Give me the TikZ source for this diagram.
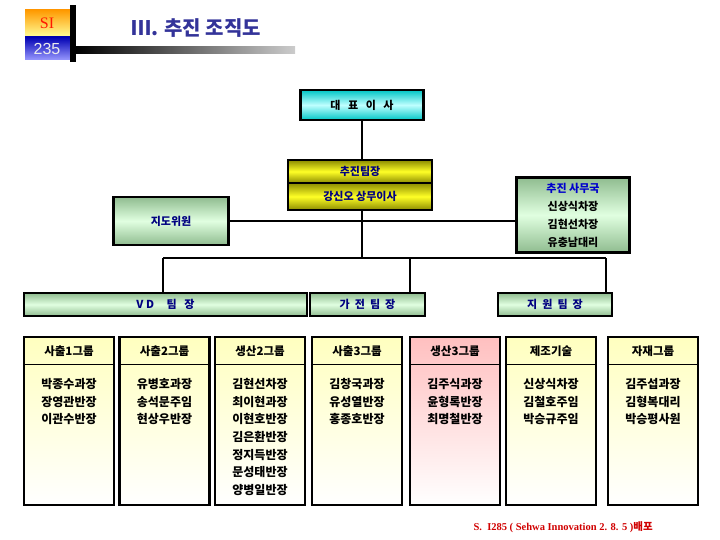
\documentclass[tikz,border=0pt]{standalone}
\usepackage{fontspec}
\setmainfont{Noto Sans CJK KR}
\newfontfamily\latinserif{Liberation Serif}
\newfontfamily\latinsans{Liberation Sans}
\usetikzlibrary{positioning}
\definecolor{navytxt}{HTML}{000080}
\definecolor{titleblue}{HTML}{333399}
\definecolor{footred}{HTML}{D00000}
\tikzset{
    box/.style={draw=black,line width=2.4pt,inner sep=0pt,font=\bfseries\fontsize{11}{13}\selectfont},
    cyanbox/.style={box,top color=cyan!55!teal,bottom color=cyan!55!teal,middle color=cyan!25!white},
    olivebox/.style={box,top color=olive!90!yellow,bottom color=olive!90!yellow,middle color=yellow!85!white},
    greenbox/.style={box,top color=green!25!gray!70,bottom color=green!25!gray!70,middle color=green!12!white,text=navytxt},
    grpyel/.style={box,top color=yellow!25,bottom color=white},
    grppink/.style={box,top color=red!25,bottom color=white},
    link/.style={line width=2.2pt,draw=black},
    every node/.style={font=\bfseries\fontsize{11.5}{13}\selectfont}
}

\begin{document}
\begin{tikzpicture}[x=1pt,y=-1pt]
  \useasboundingbox (0,0) rectangle (720,540);

  % header corner
  \shade[top color=orange!80!yellow,bottom color=yellow!40] (25,10) rectangle (70,37);
  \shade[top color=blue!70!black,bottom color=blue!40!white] (25,37) rectangle (70,60);
  \node[font=\latinserif\fontsize{16}{16}\selectfont,text=red!80!orange] (si) at (47,23) {SI};
  \node[font=\latinsans\fontsize{16}{16}\selectfont,text=gray!15] (num) at (47,49) {235};
  \fill[black] (70,5) rectangle (76,62);
  \shade[left color=black,right color=gray!40] (76,47) rectangle (295,54);
  \node[font=\bfseries\fontsize{20}{22}\selectfont,text=titleblue] (title) at (196,28) {Ⅲ. 추진 조직도};

  % top of the chart
  \node[cyanbox,minimum width=123,minimum height=30] (ceo) at (362,105) {대\ \ \ 표\ \ \ 이\ \ \ 사};
  \node[olivebox,minimum width=144,minimum height=23,text=navytxt] (team) at (360,171.5) {추진팀장};
  \node[olivebox,minimum width=144,minimum height=27,text=navytxt] (chief) at (360,196.5) {강신오 상무이사};
  \node[greenbox,minimum width=115,minimum height=48] (jido) at (171,221) {지도위원};
  \node[greenbox,minimum width=113,minimum height=75,align=center,
        font=\bfseries\fontsize{11}{18}\selectfont] (samu) at (573,215)
       {\textcolor{blue!80!black}{추진 사무국}\\\textcolor{black}{신상식차장}\\\textcolor{black}{김현선차장}\\\textcolor{black}{유충남대리}};

  % 팀장
  \node[greenbox,minimum width=283,minimum height=23] (vd) at (165.5,304.5) {V\ D\ \ \ \ \ 팀\ \ \ 장};
  \node[greenbox,minimum width=115,minimum height=23] (gajeon) at (367.5,304.5) {가\ \ 전\ \ 팀\ \ 장};
  \node[greenbox,minimum width=114,minimum height=23] (jiwon) at (555,304.5) {지\ \ 원\ \ 팀\ \ 장};

  \coordinate (bus) at (362,258);
  \coordinate (busL) at (163,258);
  \coordinate (busM) at (410,258);
  \coordinate (busR) at (606,258);

  \draw[link] (ceo.south) -- (ceo.south |- team.north);
  \draw[link] (ceo.south |- chief.south) -- (bus);
  \draw[link] (jido.east) -- (jido.east -| samu.west);
  \draw[link] (busL) -- (busR);
  \draw[link] (busL) -- (busL |- vd.north);
  \draw[link] (busM) -- (busM |- gajeon.north);
  \draw[link] (busR) -- (busR |- jiwon.north);

  % 그룹
  \foreach \gx/\gid/\gstyle/\ghead/\gbody in {
      69/g1/grpyel/사출1그룹/{박종수과장\\장영관반장\\이관수반장},
      164.5/g2/grpyel/사출2그룹/{유병호과장\\송석문주임\\현상우반장},
      260/g3/grpyel/생산2그룹/{김현선차장\\최이현과장\\이현호반장\\김은환반장\\정지득반장\\문성태반장\\양병일반장},
      357/g4/grpyel/사출3그룹/{김창국과장\\유성열반장\\홍종호반장},
      455/g5/grppink/생산3그룹/{김주식과장\\윤형록반장\\최명철반장},
      551/g6/grpyel/제조기술/{신상식차장\\김철호주임\\박승규주임},
      653/g7/grpyel/자재그룹/{김주섭과장\\김형복대리\\박승평사원}}{
    \node[\gstyle,minimum width=90,minimum height=168] (\gid) at (\gx,421) {};
    \draw[line width=1.2pt] ([yshift=-29pt]\gid.north west) -- ([yshift=-29pt]\gid.north east);
    \node (\gid-head) at (\gx,351) {\ghead};
    \node[anchor=north,align=center,font=\bfseries\fontsize{12}{17.6}\selectfont] (\gid-body) at (\gx,375) {\gbody};
  }

  % footer
  \node[anchor=west,text=footred,font=\bfseries\fontsize{10.5}{12}\selectfont] (foot) at (470,527)
       {{\latinserif S.\ \ I285 ( Sehwa Innovation 2. 8. 5 )}배포};
\end{tikzpicture}
\end{document}
